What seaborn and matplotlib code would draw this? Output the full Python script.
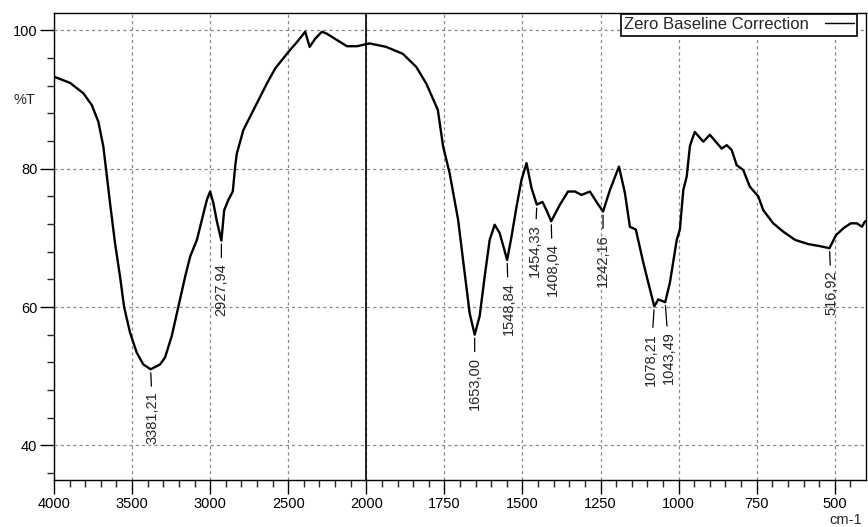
import numpy as np
import pandas as pd
import matplotlib
matplotlib.use('Agg')
import matplotlib.pyplot as plt
from matplotlib.ticker import FixedLocator, FixedFormatter
import seaborn as sns

# spectrum (wavenumber in cm-1, %T)
wavenumber = [4000, 3897, 3812, 3758, 3716, 3684, 3667, 3641, 3609, 3577,
              3551, 3513, 3470, 3428, 3381, 3321, 3289, 3246, 3203, 3160,
              3128, 3085, 3053, 3021, 3000, 2979, 2957, 2928, 2910, 2883,
              2855, 2840, 2829, 2787, 2722, 2637, 2583, 2498, 2444, 2391,
              2363, 2327, 2284, 2252, 2188, 2124, 2060, 2000,
              1989, 1936, 1883, 1840, 1808, 1771, 1754, 1733, 1706, 1685,
              1669, 1653, 1637, 1621, 1605, 1589, 1573, 1549, 1535, 1519,
              1503, 1487, 1471, 1454, 1436, 1423, 1408, 1380, 1354, 1332,
              1311, 1284, 1263, 1242, 1220, 1191, 1172, 1156, 1137, 1113,
              1097, 1078, 1065, 1043, 1028, 1006, 996, 985, 974, 964,
              958, 948, 921, 900, 862, 846, 830, 814, 793, 772,
              745, 729, 697, 665, 627, 585, 547, 517, 496, 472,
              449, 429, 413, 403]
transmittance = [93.3, 92.4, 90.9, 89.2, 86.8, 83.2, 80.0, 75.0, 69.2, 64.4,
                 60.0, 56.3, 53.4, 51.7, 51.0, 51.7, 52.7, 55.8, 60.1, 64.4,
                 67.3, 69.7, 72.6, 75.5, 76.7, 75.0, 72.4, 69.6, 74.0, 75.5,
                 76.7, 80.3, 82.2, 85.6, 88.5, 92.3, 94.5, 96.9, 98.3, 99.8,
                 97.6, 98.8, 99.8, 99.5, 98.6, 97.7, 97.7, 98.0,
                 98.1, 97.6, 96.6, 94.7, 92.3, 88.5, 83.2, 79.3, 72.6, 64.9,
                 59.1, 56.0, 58.7, 64.4, 69.7, 71.9, 70.7, 66.8, 70.2, 74.5,
                 78.4, 80.8, 77.2, 74.8, 75.2, 74.0, 72.4, 74.8, 76.7, 76.7,
                 76.2, 76.7, 75.2, 73.8, 76.9, 80.3, 76.5, 71.6, 71.2, 66.4,
                 63.5, 60.1, 61.1, 60.7, 63.5, 69.7, 71.2, 76.9, 78.9, 83.2,
                 84.1, 85.3, 83.9, 84.9, 82.9, 83.4, 82.7, 80.5, 79.8, 77.4,
                 76.0, 74.0, 72.1, 70.9, 69.7, 69.1, 68.8, 68.5, 70.4, 71.4,
                 72.1, 72.1, 71.6, 72.4]

peak_wn = [3381, 2928, 1653, 1549, 1454, 1408, 1242, 1078, 1043, 517]
peak_lbl = ['3381,21', '2927,94', '1653,00', '1548,84', '1454,33',
            '1408,04', '1242,16', '1078,21', '1043,49', '516,92']
# label shift (points) sideways / downwards from the peak
peak_dx = [1.5, 0, 0, 1, -1.5, 1, 0, -2.5, 3, 1.5]
peak_dy = [16, 16, 16, 16, 14, 16, 16, 19, 21, 16]

x_major = [4000, 3500, 3000, 2500, 2000, 1750, 1500, 1250, 1000, 750, 500]
x_minor = [w for w in range(3900, 2000, -100) if w % 500] + \
          [w for w in range(1950, 400, -50) if w % 250]
y_major = [40, 60, 80, 100]
y_minor = list(range(36, 101, 4))


def fwd(w):
    # 4000-2000 is drawn at half the scale of 2000-400
    w = np.asarray(w, dtype=float)
    return np.where(w >= 2000, (w - 2000) / 2, w - 2000)


def inv(u):
    u = np.asarray(u, dtype=float)
    return np.where(u >= 0, 2000 + 2 * u, 2000 + u)


sns.set_style('ticks')
plt.rcParams['font.family'] = ['Liberation Sans', 'DejaVu Sans']

df = pd.DataFrame({'wn': wavenumber, 'T': transmittance})

fig = plt.figure(figsize=(8.68, 5.27), dpi=100)
ax = fig.add_axes([0.0622, 0.0892, 0.9355, 0.8861])
ax.set_xscale('function', functions=(fwd, inv))

sns.lineplot(data=df, x='wn', y='T', ax=ax, color='black', lw=1.7,
             sort=False, estimator=None, label='Zero Baseline Correction')

ax.set_xlim(4000, 400)
ax.set_ylim(35, 102.5)

ax.xaxis.set_major_locator(FixedLocator(x_major))
ax.xaxis.set_major_formatter(FixedFormatter([str(v) for v in x_major]))
ax.xaxis.set_minor_locator(FixedLocator(x_minor))
ax.yaxis.set_major_locator(FixedLocator(y_major))
ax.yaxis.set_major_formatter(FixedFormatter([str(v) for v in y_major]))
ax.yaxis.set_minor_locator(FixedLocator(y_minor))
ax.xaxis.set_minor_formatter(FixedFormatter([''] * len(x_minor)))
ax.yaxis.set_minor_formatter(FixedFormatter([''] * len(y_minor)))

ax.tick_params(which='major', direction='out', length=10, width=1,
               labelsize=10.5, pad=2, colors='black')
ax.tick_params(which='minor', direction='out', length=5, width=1)
ax.set_xlabel('')
ax.set_ylabel('')

for s in ax.spines.values():
    s.set_linewidth(1)
    s.set_color('black')

ax.grid(which='major', ls=(0, (2.5, 2.5)), color='#8a8a8a', lw=0.9)
ax.axvline(2000, color='black', lw=1.2)

# peak labels
t_peak = np.interp(peak_wn, wavenumber[::-1], transmittance[::-1])
for w, t, lbl, dx, dy in zip(peak_wn, t_peak, peak_lbl, peak_dx, peak_dy):
    ax.annotate(lbl, xy=(w, t), xytext=(dx, -dy), textcoords='offset points',
                rotation=90, ha='center', va='top', fontsize=10.5,
                arrowprops=dict(arrowstyle='-', lw=0.9, color='black',
                                shrinkA=1.5, shrinkB=2.5))

leg = ax.legend(loc='upper right', bbox_to_anchor=(0.989, 0.998),
                borderaxespad=0, fancybox=False, framealpha=1,
                edgecolor='black', markerfirst=False, fontsize=12,
                handlelength=1.7, borderpad=0.2, handletextpad=1.0)
leg.get_frame().set_linewidth(1.2)
for h in leg.get_lines():
    h.set_linewidth(1)

fig.text(0.028, 0.81, '%T', fontsize=10.5, va='center', ha='center')
fig.text(0.974, 0.013, 'cm-1', fontsize=10.5, va='center', ha='center')

fig.savefig('out.png', dpi=100)
